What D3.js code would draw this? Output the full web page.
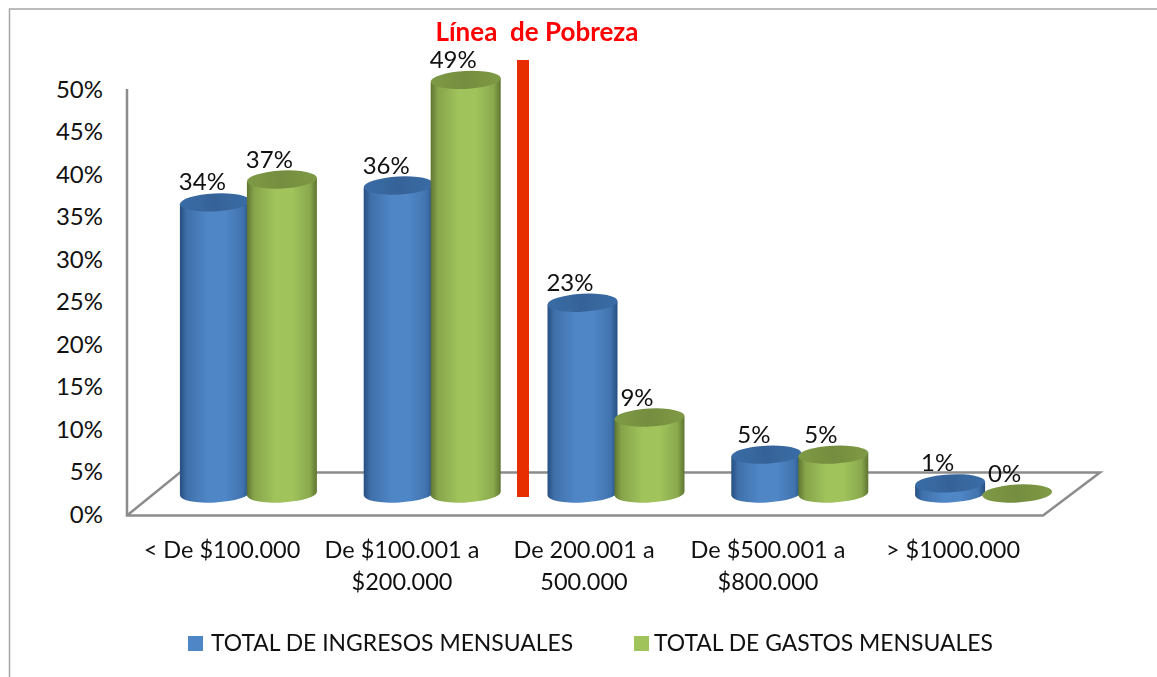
<!DOCTYPE html>
<html><head><meta charset="utf-8">
<script src="https://cdnjs.cloudflare.com/ajax/libs/d3/7.8.5/d3.min.js"></script>
<style>html,body{margin:0;padding:0;background:#fff}svg{display:block}text{font-family:Lato,"Open Sans",sans-serif;fill:#111}</style>
</head><body><svg id="c" width="1157" height="677"></svg>
<script>
const categories=[["< De $100.000"],["De $100.001 a","$200.000"],["De 200.001 a","500.000"],["De $500.001 a","$800.000"],["> $1000.000"]];
const seriesNames=["TOTAL DE INGRESOS MENSUALES","TOTAL DE GASTOS MENSUALES"];
const ingresos=[34.49,36.49,22.6,4.6,1.2];
const gastos=[37.2,49,9,4.6,0];
const yTicks=[0,5,10,15,20,25,30,35,40,45,50];
const palette=[{base:"#4f86c6",dark:"#264f80",top:"#3a6ca6"},{base:"#a0c35c",dark:"#5f7530",top:"#7f9a45"}];

const svg=d3.select("#c");
const defs=svg.append("defs");
defs.append("filter").attr("id","soft").append("feGaussianBlur").attr("stdDeviation",.7);
palette.forEach((p,i)=>{
  const mix=d3.interpolateRgb(p.dark,p.base);
  const g=defs.append("linearGradient").attr("id","g"+i).attr("x1",0).attr("x2",1).attr("y1",0).attr("y2",0);
  [[0,p.dark],[.1,mix(.6)],[.4,p.base],[.65,p.base],[.9,mix(.65)],[1,p.dark]]
    .forEach(s=>g.append("stop").attr("offset",s[0]).attr("stop-color",s[1]));
  const t=defs.append("linearGradient").attr("id","t"+i).attr("x1",0).attr("x2",1).attr("y1",0).attr("y2",0);
  [[0,p.top],[.5,d3.color(p.top).darker(.25)],[1,p.top]]
    .forEach(s=>t.append("stop").attr("offset",s[0]).attr("stop-color",s[1]));
});
// frame
svg.append("rect").attr("x",9.5).attr("y",9).attr("width",1200).attr("height",800).attr("fill","none").attr("stroke","#a6a6a6").attr("stroke-width",1.5);

const axisY=d3.scaleLinear().domain([0,50]).range([514,89]);
const barY=d3.scaleLinear().domain([0,50]).range([493.5,71.5]);
const x0=d3.scaleBand().domain(d3.range(categories.length)).range([155,1074]);
const catCenters=[222,402,584,768,953];
const bw=67;
const x1=d3.scaleBand().domain([0,1]).range([0,2*bw]);
const groupLeft=i=>x0(i)+x0.bandwidth()/2-bw;

// floor and wall
svg.append("path").attr("fill","none").attr("stroke","#8c8c8c").attr("stroke-width",2.5)
  .attr("d",d3.line()([[127,89],[127,515.5],[1043,515.5],[1100,472.5],[180,472.5],[127,515.5]]));

// y labels
svg.append("g").selectAll("text").data(yTicks).join("text")
  .attr("x",103).attr("y",d=>axisY(d)).attr("dy","0.36em").attr("text-anchor","end")
  .attr("font-size",24).text(d=>d+"%");

const rx=35, ry=9, tilt=-3, dy=rx*Math.sin(-tilt*Math.PI/180);
[ingresos,gastos].forEach((vals,s)=>{
  const g=svg.append("g").attr("filter","url(#soft)");
  vals.forEach((v,i)=>{
    const cx=groupLeft(i)+x1(s)+bw/2+1.5, y0=barY(0), yt=barY(v);
    if(v>0){
      g.append("path").attr("fill",`url(#g${s})`)
       .attr("d",`M${cx-rx},${yt+dy}L${cx-rx},${y0+dy}A${rx},${ry} ${tilt} 0 0 ${cx+rx},${y0-dy}L${cx+rx},${yt-dy}Z`);
    }
    g.append("ellipse").attr("cx",cx).attr("cy",yt).attr("rx",rx).attr("ry",ry)
     .attr("transform",`rotate(${tilt} ${cx} ${yt})`).attr("fill",`url(#t${s})`);
  });
});

// red line
svg.append("rect").attr("x",517).attr("y",60).attr("width",12).attr("height",437).attr("fill","#e62e00");
svg.append("text").attr("x",537).attr("y",41).attr("text-anchor","middle").attr("font-size",26).attr("font-weight",700)
  .style("fill","#ff0000").style("white-space","pre").text("Línea  de Pobreza");

// value labels
[ingresos,gastos].forEach((vals,s)=>{
  svg.append("g").selectAll("text").data(vals).join("text")
    .attr("x",(d,i)=>groupLeft(i)+x1(s)+bw/2-11)
    .attr("y",d=>barY(d)-12).attr("text-anchor","middle").attr("font-size",24)
    .text(d=>Math.round(d)+"%");
});

// category labels
svg.append("g").selectAll("text").data(categories).join("text")
  .attr("text-anchor","middle").attr("font-size",23.5)
  .each(function(lines,i){
    lines.forEach((l,j)=>d3.select(this).append("tspan").attr("x",catCenters[i]).attr("y",558+j*32).text(l));
  });

// legend
const swatchX=[188,634], labelX=[211,654];
seriesNames.forEach((n,i)=>{
  svg.append("rect").attr("x",swatchX[i]).attr("y",636).attr("width",15).attr("height",15).attr("fill",palette[i].base);
  svg.append("text").attr("x",labelX[i]).attr("y",651).attr("font-size",22.9).text(n);
});
</script></body></html>
